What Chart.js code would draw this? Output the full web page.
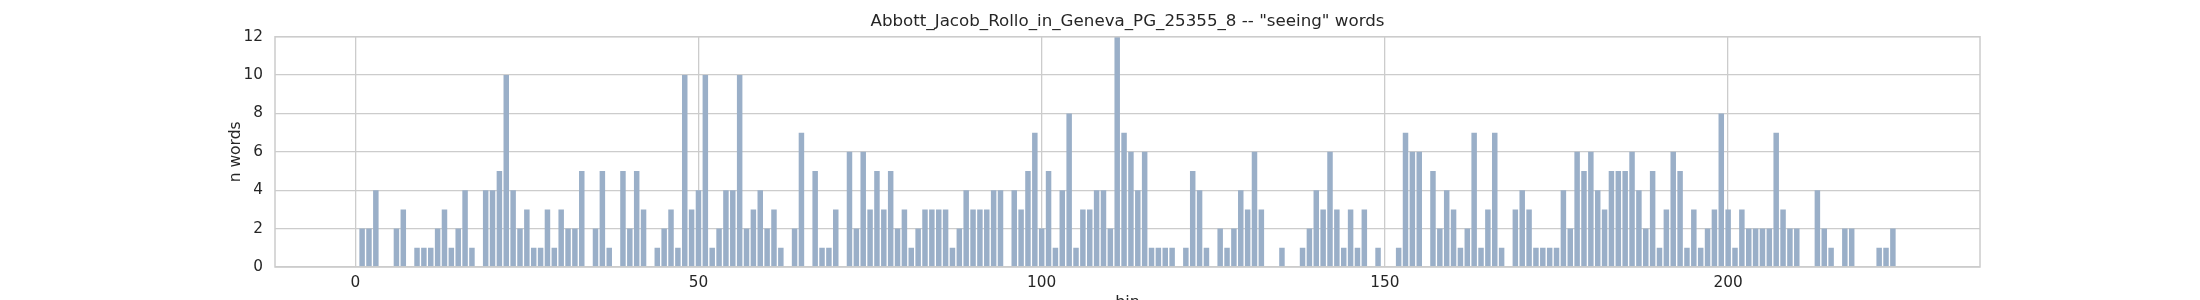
<!DOCTYPE html>
<html>
<head>
<meta charset="utf-8">
<script src="https://cdn.jsdelivr.net/npm/chart.js@4.4.0/dist/chart.umd.min.js"></script>
<style>
html,body{margin:0;padding:0;background:#fff;}
#wrap{width:2200px;height:300px;}
</style>
</head>
<body>
<div id="wrap"><canvas id="c" width="2200" height="300"></canvas></div>
<script>
const titleText = 'Abbott_Jacob_Rollo_in_Geneva_PG_25355_8 -- "seeing" words';
const xLabel = 'bin';
const yLabel = 'n words';
const xTicks = [0, 50, 100, 150, 200];
const yTicks = [0, 2, 4, 6, 8, 10, 12];
const bins = [
  0,1,2,3,4,5,6,7,8,9,10,11,12,13,14,15,16,17,18,19,
  20,21,22,23,24,25,26,27,28,29,30,31,32,33,34,35,36,37,38,39,
  40,41,42,43,44,45,46,47,48,49,50,51,52,53,54,55,56,57,58,59,
  60,61,62,63,64,65,66,67,68,69,70,71,72,73,74,75,76,77,78,79,
  80,81,82,83,84,85,86,87,88,89,90,91,92,93,94,95,96,97,98,99,
  100,101,102,103,104,105,106,107,108,109,110,111,112,113,114,115,116,117,118,119,
  120,121,122,123,124,125,126,127,128,129,130,131,132,133,134,135,136,137,138,139,
  140,141,142,143,144,145,146,147,148,149,150,151,152,153,154,155,156,157,158,159,
  160,161,162,163,164,165,166,167,168,169,170,171,172,173,174,175,176,177,178,179,
  180,181,182,183,184,185,186,187,188,189,190,191,192,193,194,195,196,197,198,199,
  200,201,202,203,204,205,206,207,208,209,210,211,212,213,214,215,216,217,218,219,
  220,221,222,223,224,225
];
const counts = [
  0,2,2,4,0,0,2,3,0,1,1,1,2,3,1,2,4,1,0,4,
  4,5,10,4,2,3,1,1,3,1,3,2,2,5,0,2,5,1,0,5,
  2,5,3,0,1,2,3,1,10,3,4,10,1,2,4,4,10,2,3,4,
  2,3,1,0,2,7,0,5,1,1,3,0,6,2,6,3,5,3,5,2,
  3,1,2,3,3,3,3,1,2,4,3,3,3,4,4,0,4,3,5,7,
  2,5,1,4,8,1,3,3,4,4,2,12,7,6,4,6,1,1,1,1,
  0,1,5,4,1,0,2,1,2,4,3,6,3,0,0,1,0,0,1,2,
  4,3,6,3,1,3,1,3,0,1,0,0,1,7,6,6,0,5,2,4,
  3,1,2,7,1,3,7,1,0,3,4,3,1,1,1,1,4,2,6,5,
  6,4,3,5,5,5,6,4,2,5,1,3,6,5,1,3,1,2,3,8,
  3,1,3,2,2,2,2,7,3,2,2,0,0,4,2,1,0,2,2,0,
  0,0,1,1,2,0
];

const FONT = "'DejaVu Sans', sans-serif";
const TEXT = '#262626';
const GRID = '#cccccc';

const frame = {
  id: 'frame',
  afterDraw(chart) {
    const a = chart.chartArea, ctx = chart.ctx;
    ctx.save();
    ctx.strokeStyle = GRID;
    ctx.lineWidth = 1.5;
    ctx.strokeRect(a.left, a.top, a.right - a.left, a.bottom - a.top);
    ctx.restore();
  }
};

new Chart(document.getElementById('c'), {
  type: 'bar',
  data: {
    datasets: [{
      data: bins.map((b, i) => ({x: b, y: counts[i]})),
      backgroundColor: 'rgb(154,175,200)',
      borderWidth: 0,
      barPercentage: 0.8,
      categoryPercentage: 1.0
    }]
  },
  options: {
    responsive: false,
    devicePixelRatio: 1,
    animation: false,
    layout: { padding: { left: 224, right: 169, top: 0, bottom: 0 } },
    plugins: {
      legend: { display: false },
      tooltip: { enabled: false },
      title: {
        display: true,
        text: titleText,
        color: TEXT,
        font: { family: FONT, size: 16.7, weight: 'normal', lineHeight: 1.2 },
        padding: { top: 11.8, bottom: 4.9 }
      }
    },
    scales: {
      x: {
        type: 'linear',
        min: -11.69,
        max: 236.69,
        offset: false,
        afterBuildTicks: (axis) => { axis.ticks = xTicks.map(v => ({value: v})); },
        afterFit: (scale) => { scale.height = 33; },
        grid: { color: GRID, lineWidth: 1.3, drawTicks: false, offset: false },
        border: { display: false },
        ticks: { color: TEXT, font: { family: FONT, size: 15.3 }, padding: 6.5, maxRotation: 0 },
        title: { display: true, text: xLabel, color: TEXT, font: { family: FONT, size: 16 }, padding: { top: 0, bottom: -12 } }
      },
      y: {
        min: 0,
        max: 12,
        afterBuildTicks: (axis) => { axis.ticks = yTicks.map(v => ({value: v})); },
        afterFit: (scale) => { scale.width = 51; },
        grid: { color: GRID, lineWidth: 1.3, drawTicks: false },
        border: { display: false },
        ticks: { color: TEXT, font: { family: FONT, size: 15.3 }, padding: 12 },
        title: { display: true, text: yLabel, color: TEXT, font: { family: FONT, size: 15.5 }, padding: { top: 3, bottom: 0 } }
      },
      yRight: {
        position: 'right',
        min: 0,
        max: 12,
        afterFit: (scale) => { scale.width = 51; },
        grid: { display: false, drawTicks: false },
        border: { display: false },
        ticks: { display: false }
      }
    }
  },
  plugins: [frame]
});
</script>
</body>
</html>
